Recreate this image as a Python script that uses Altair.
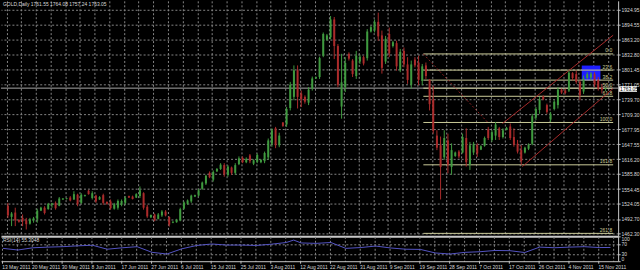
import json
import altair as alt
import pandas as pd

# ---------------- data ----------------
opens = [1520, 1497, 1506, 1491, 1495, 1490, 1483, 1490, 1493, 1510,
         1516, 1513, 1522, 1526, 1520, 1533, 1534, 1537, 1533, 1543,
         1526, 1540, 1551, 1536, 1541, 1533, 1542, 1528, 1529, 1514,
         1516, 1522, 1526, 1540, 1539, 1537, 1540, 1546, 1518, 1496,
         1502, 1493, 1500, 1508, 1497, 1485, 1486, 1490, 1514, 1524,
         1529, 1539, 1541, 1555, 1566, 1588, 1574, 1591, 1596, 1604,
         1584, 1599, 1588, 1606, 1619, 1610, 1624, 1607, 1611, 1610,
         1612, 1620, 1648, 1680, 1645, 1692, 1688, 1722, 1745, 1800,
         1752, 1745, 1733, 1762, 1783, 1786, 1830, 1863, 1868, 1905,
         1850, 1725, 1765, 1834, 1820, 1788, 1818, 1827, 1825, 1880,
         1882, 1900, 1872, 1818, 1875, 1850, 1856, 1800, 1840, 1812,
         1770, 1822, 1816, 1778, 1810, 1780, 1740, 1665, 1645, 1620,
         1655, 1600, 1623, 1632, 1630, 1660, 1605, 1630, 1645, 1636,
         1644, 1678, 1656, 1665, 1680, 1662, 1677, 1684, 1662, 1648,
         1635, 1630, 1638, 1648, 1702, 1718, 1746, 1728, 1698, 1720,
         1728, 1760, 1758, 1758, 1794, 1792, 1776, 1756, 1784, 1785,
         1792, 1780, 1764, 1761.55]
highs = [1526, 1507, 1516, 1492, 1502, 1495, 1495, 1497, 1514, 1518,
         1519, 1526, 1526, 1529, 1538, 1536, 1536, 1540, 1550, 1545,
         1546, 1543, 1553, 1550, 1543, 1540, 1545, 1529, 1533, 1526,
         1533, 1533, 1540, 1541, 1541, 1546, 1560, 1548, 1522, 1502,
         1504, 1505, 1511, 1511, 1498, 1488, 1493, 1516, 1529, 1533,
         1543, 1543, 1555, 1570, 1584, 1591, 1593, 1598, 1608, 1608,
         1604, 1601, 1608, 1622, 1622, 1620, 1627, 1616, 1628, 1616,
         1632, 1659, 1680, 1683, 1671, 1693, 1724, 1776, 1810, 1810,
         1758, 1748, 1765, 1787, 1787, 1828, 1878, 1875, 1912, 1910,
         1854, 1834, 1827, 1837, 1823, 1840, 1832, 1830, 1885, 1892,
         1905, 1919, 1882, 1871, 1888, 1861, 1861, 1844, 1847, 1827,
         1820, 1827, 1830, 1813, 1816, 1782, 1768, 1676, 1663, 1676,
         1669, 1649, 1632, 1635, 1669, 1680, 1652, 1652, 1649, 1645,
         1663, 1683, 1676, 1693, 1683, 1680, 1683, 1690, 1680, 1656,
         1645, 1642, 1649, 1710, 1724, 1745, 1748, 1731, 1714, 1738,
         1765, 1762, 1762, 1799, 1796, 1799, 1779, 1789, 1796, 1796,
         1796, 1786, 1772, 1764.08]
lows = [1495, 1478, 1478, 1485, 1478, 1471, 1481, 1485, 1485, 1509,
        1502, 1512, 1516, 1512, 1519, 1532, 1533, 1529, 1532, 1519,
        1524, 1539, 1543, 1533, 1526, 1532, 1522, 1522, 1512, 1512,
        1512, 1519, 1522, 1536, 1533, 1536, 1536, 1512, 1495, 1495,
        1488, 1492, 1497, 1498, 1477, 1484, 1485, 1488, 1512, 1522,
        1526, 1538, 1539, 1553, 1563, 1577, 1570, 1590, 1594, 1580,
        1580, 1584, 1584, 1604, 1608, 1608, 1608, 1604, 1608, 1608,
        1608, 1615, 1642, 1639, 1641, 1683, 1683, 1717, 1738, 1721,
        1724, 1731, 1728, 1758, 1782, 1782, 1827, 1861, 1864, 1823,
        1765, 1700, 1755, 1820, 1786, 1782, 1813, 1810, 1820, 1878,
        1878, 1861, 1793, 1813, 1827, 1847, 1799, 1796, 1806, 1772,
        1762, 1806, 1769, 1769, 1782, 1717, 1669, 1635, 1533, 1615,
        1587, 1584, 1621, 1618, 1628, 1601, 1594, 1625, 1621, 1635,
        1642, 1656, 1652, 1656, 1656, 1659, 1676, 1656, 1642, 1628,
        1604, 1628, 1635, 1645, 1697, 1710, 1738, 1710, 1693, 1717,
        1721, 1751, 1750, 1755, 1779, 1772, 1738, 1751, 1782, 1779,
        1765, 1758, 1752, 1757.24]
closes = [1500, 1504, 1490, 1487, 1488, 1482, 1492, 1494, 1510, 1516,
          1505, 1524, 1525, 1515, 1535, 1535, 1535.5, 1531, 1544, 1523,
          1543, 1542, 1544, 1546, 1529, 1538, 1526, 1524, 1515, 1523,
          1530, 1530, 1536, 1537, 1534, 1544, 1552, 1516, 1498, 1501,
          1490, 1502, 1508, 1500, 1481, 1487, 1491, 1513, 1527, 1531,
          1541, 1542, 1552, 1568, 1582, 1579, 1590, 1596, 1605, 1585,
          1601, 1588, 1604, 1618, 1610, 1617, 1612, 1614, 1625, 1615,
          1629, 1655, 1676, 1645, 1665, 1685, 1720, 1770, 1800, 1745,
          1740, 1735, 1760, 1783, 1786, 1825, 1875, 1872, 1905, 1850,
          1770, 1775, 1815, 1824, 1792, 1830, 1828, 1814, 1880, 1889,
          1900, 1870, 1805, 1865, 1835, 1858, 1808, 1838, 1812, 1780,
          1812, 1810, 1780, 1808, 1788, 1730, 1675, 1640, 1600, 1660,
          1605, 1635, 1630, 1622, 1662, 1610, 1645, 1648, 1628, 1643,
          1660, 1660, 1672, 1688, 1662, 1676, 1681, 1660, 1646, 1632,
          1612, 1640, 1646, 1705, 1720, 1740, 1740, 1714, 1710, 1735,
          1760, 1754, 1753, 1795, 1784, 1776, 1748, 1783, 1792, 1793,
          1770, 1762, 1760, 1763.05]

x_labels = ["13 May 2011", "20 May 2011", "30 May 2011", "8 Jun 2011", "17 Jun 2011",
            "27 Jun 2011", "6 Jul 2011", "15 Jul 2011", "25 Jul 2011", "3 Aug 2011",
            "12 Aug 2011", "22 Aug 2011", "31 Aug 2011", "9 Sep 2011", "19 Sep 2011",
            "28 Sep 2011", "7 Oct 2011", "17 Oct 2011", "26 Oct 2011", "4 Nov 2011",
            "15 Nov 2011"]
price_ticks = [1924.95, 1894.55, 1863.20, 1832.80, 1801.45, 1771.05, 1739.70, 1709.30,
               1677.95, 1647.55, 1616.20, 1585.80, 1554.45, 1524.05, 1492.70, 1462.30]
rsi_ticks = [0, 30, 70, 100]

fib_levels = ["0.0", "23.6", "38.2", "50.0", "61.8", "100.0", "161.8", "261.8"]
fib_prices = [1833.7, 1800.3, 1779.6, 1762.9, 1746.2, 1692.1, 1604.6, 1463.0]
fib_start_bar = 113.3
fib_trend_bars = [113.3, 130.9]
fib_trend_prices = [1833.7, 1692.1]

channel_start_bars = [134.9, 140.3]
channel_start_prices = [1690.0, 1601.0]
channel_end_bars = [165.07, 165.07]
channel_end_prices = [1872.4, 1762.5]

rect_bars = [156.5, 161.6]
rect_prices = [1809.7, 1778.9]

rsi_bars = [0, 4, 8, 12, 16, 20, 24, 28, 32, 36, 40, 44, 48, 52, 56, 60, 64, 68, 72,
            76, 78, 80, 84, 88, 92, 96, 100, 104, 108, 112, 116, 120, 124, 128, 132,
            136, 140, 144, 148, 152, 156, 160, 163]
rsi_values = [51.7, 45, 54, 56.7, 58.4, 61.8, 64.3, 48.3, 54, 58.4, 35.7, 29, 50, 63.4,
              69.3, 65, 65, 63.4, 68.5, 75.2, 85, 73.5, 71.8, 75.2, 51.7, 55, 61, 53.4,
              48.3, 47.5, 33.2, 29, 35.7, 38.2, 43.3, 42.4, 34.9, 56.7, 54.2, 56.7, 58.4,
              55, 55.3]

header = "GOLD,Daily  1761.55 1764.08 1757.24 1763.05"
rsi_title = "RSI(14) 55.3048"
bid = 1763.05

# ---------------- styles ----------------
FONT = "Liberation Sans"
TXT = "#d8d8d8"
GRID = "#858585"
SEP = "#c8c8c8"
BULL = "#3f9a3f"
BEAR = "#aa2b2b"
FIB = "#cccc99"
RED_LINE = "#a52a2a"

X_DOMAIN = [-0.533, 165.07]
xs = alt.Scale(domain=X_DOMAIN, nice=False, zero=False)
ys = alt.Scale(domain=[1456.8, 1943.4], nice=False, zero=False)
rs = alt.Scale(domain=[0, 100], nice=False, zero=False)

grid_vals = [4 * k - 0.35 for k in range(42)]
lab_js = json.dumps(x_labels).replace('"', "'")
label_expr = ("(round((datum.value + 0.35) / 4) % 2 == 0) ? "
              + lab_js + "[round((datum.value + 0.35) / 8)] : ''")

xa_top = alt.Axis(values=grid_vals, labels=False, ticks=False, domain=True,
                  domainColor=SEP, domainWidth=2, grid=True, gridColor=GRID,
                  gridDash=[2, 2], gridWidth=1, title=None)
xa_bot = alt.Axis(values=grid_vals, labelExpr=label_expr, labelAlign="left",
                  labelBaseline="top", labelFontSize=5, labelFont=FONT,
                  labelColor=TXT, labelPadding=1, labelOverlap=False,
                  labelFlush=False, tickSize=2, tickColor=SEP,
                  tickOpacity={"condition": {"test": "round((datum.value + 0.35) / 4) % 2 == 0",
                                             "value": 1}, "value": 0},
                  domain=True, domainColor=SEP, domainWidth=1, grid=True,
                  gridColor=GRID, gridDash=[2, 2], gridWidth=1, title=None)
ya = alt.Axis(orient="right", values=price_ticks, format=".2f", labelFontSize=5,
              labelFont=FONT, labelColor=TXT, labelPadding=1, tickSize=2,
              tickColor=SEP, domain=True, domainColor=SEP, grid=True,
              gridColor=GRID, gridDash=[2, 2], gridWidth=1, labelOverlap=False,
              title=None)
ra = alt.Axis(orient="right", values=rsi_ticks, labelFontSize=5, labelFont=FONT,
              labelColor=TXT, labelPadding=1, tickSize=2, tickColor=SEP,
              labelFlush=True, labelOverlap=False, domain=True, domainColor=SEP,
              grid=True, gridColor=GRID, gridDash=[2, 2], gridWidth=1,
              gridOpacity={"condition": {"test": "datum.value == 30 || datum.value == 70",
                                         "value": 1}, "value": 0},
              title=None)

# ---------------- tables ----------------
n = len(opens)
df = pd.DataFrame({"bar": list(range(n)), "open": opens, "high": highs,
                   "low": lows, "close": closes})
df["dir"] = ["up" if c >= o else "down" for o, c in zip(opens, closes)]
color = alt.Color("dir:N", scale=alt.Scale(domain=["up", "down"], range=[BULL, BEAR]),
                  legend=None)

fib_df = pd.DataFrame({"level": fib_levels, "price": fib_prices,
                       "x0": [fib_start_bar] * len(fib_levels),
                       "x1": [X_DOMAIN[1]] * len(fib_levels)})
trend_df = pd.DataFrame({"x0": [fib_trend_bars[0]], "x1": [fib_trend_bars[1]],
                         "y0": [fib_trend_prices[0]], "y1": [fib_trend_prices[1]]})
chan_df = pd.DataFrame({"x0": channel_start_bars, "x1": channel_end_bars,
                        "y0": channel_start_prices, "y1": channel_end_prices})
rect_df = pd.DataFrame({"x0": [rect_bars[0]], "x1": [rect_bars[1]],
                        "y0": [rect_prices[0]], "y1": [rect_prices[1]]})
bid_df = pd.DataFrame({"p": [bid], "hi": [bid + 3.9], "lo": [bid - 7.6],
                       "t": ["%.2f" % bid]})
head_df = pd.DataFrame({"t": [header]})
rsi_df = pd.DataFrame({"bar": rsi_bars, "rsi": rsi_values})
rsi_head = pd.DataFrame({"t": [rsi_title]})

# ---------------- price panel ----------------
bid_line = alt.Chart(bid_df).mark_rule(color="#a8a8a8", strokeWidth=1).encode(
    y=alt.Y("p:Q", scale=ys, axis=ya))

rect = alt.Chart(rect_df).mark_rect(color="#1e1eff").encode(
    x=alt.X("x0:Q", scale=xs, axis=xa_top), x2="x1",
    y=alt.Y("y0:Q", scale=ys, axis=ya), y2="y1")

fib_lines = alt.Chart(fib_df).mark_rule(color=FIB, strokeWidth=1).encode(
    x=alt.X("x0:Q", scale=xs, axis=xa_top), x2="x1",
    y=alt.Y("price:Q", scale=ys, axis=ya))

fib_text = alt.Chart(fib_df).mark_text(align="right", baseline="bottom", dx=-1, dy=-0.5,
                                       fontSize=5, font=FONT, color=FIB).encode(
    x=alt.X("x1:Q", scale=xs, axis=xa_top),
    y=alt.Y("price:Q", scale=ys, axis=ya), text="level:N")

trend = alt.Chart(trend_df).mark_rule(color="#8b2222", strokeWidth=1,
                                      strokeDash=[2, 2]).encode(
    x=alt.X("x0:Q", scale=xs, axis=xa_top), x2="x1",
    y=alt.Y("y0:Q", scale=ys, axis=ya), y2="y1")

channel = alt.Chart(chan_df).mark_rule(color=RED_LINE, strokeWidth=1).encode(
    x=alt.X("x0:Q", scale=xs, axis=xa_top), x2="x1",
    y=alt.Y("y0:Q", scale=ys, axis=ya), y2="y1")

wicks = alt.Chart(df).mark_rule(strokeWidth=1).encode(
    x=alt.X("bar:Q", scale=xs, axis=xa_top),
    y=alt.Y("low:Q", scale=ys, axis=ya), y2="high:Q", color=color)

bodies = alt.Chart(df).mark_bar(size=2).encode(
    x=alt.X("bar:Q", scale=xs, axis=xa_top),
    y=alt.Y("open:Q", scale=ys, axis=ya), y2="close:Q", color=color)

head = alt.Chart(head_df).mark_text(align="left", baseline="top", fontSize=5,
                                    font=FONT, color=TXT).encode(
    x=alt.value(2), y=alt.value(1), text="t:N")

bid_box = alt.Chart(bid_df).mark_rect(color="#ffffff").encode(
    x=alt.value(622), x2=alt.value(640),
    y=alt.Y("hi:Q", scale=ys, axis=ya), y2="lo:Q")

bid_text = alt.Chart(bid_df).mark_text(align="left", baseline="middle", fontSize=5,
                                       dy=1, font=FONT, color="#000000").encode(
    x=alt.value(623), y=alt.Y("p:Q", scale=ys, axis=ya), text="t:N")

top = alt.layer(bid_line, rect, fib_lines, fib_text, trend, channel, wicks, bodies,
                head, bid_box, bid_text).properties(width=621, height=237)

# ---------------- RSI panel ----------------
rsi_line = alt.Chart(rsi_df).mark_line(color="#5555c4", strokeWidth=1).encode(
    x=alt.X("bar:Q", scale=xs, axis=xa_bot),
    y=alt.Y("rsi:Q", scale=rs, axis=ra))

rsi_label = alt.Chart(rsi_head).mark_text(align="left", baseline="top", fontSize=5,
                                          font=FONT, color=TXT).encode(
    x=alt.value(2), y=alt.value(2), text="t:N")

bottom = alt.layer(rsi_line, rsi_label).properties(width=621, height=25)

chart = alt.vconcat(top, bottom, spacing=0).properties(
    bounds="flush", padding=0, background="#000000"
).configure_view(strokeWidth=0)

chart.save("out.html", embed_options={"renderer": "svg", "actions": False})
